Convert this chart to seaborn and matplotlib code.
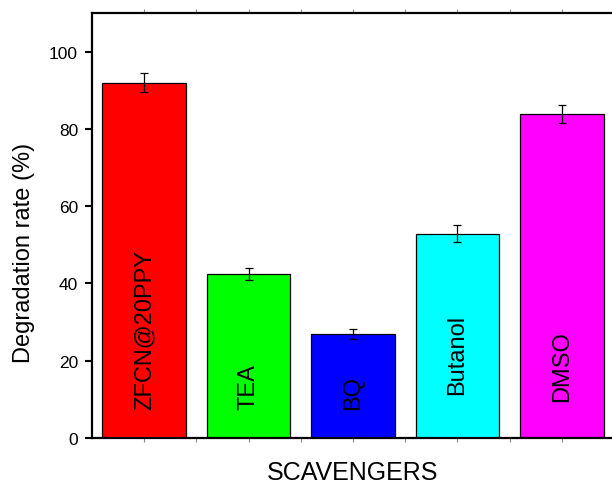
import matplotlib
matplotlib.use("Agg")
import matplotlib.pyplot as plt
import seaborn as sns
import pandas as pd
import numpy as np

# Scavenger experiment: degradation rate with each trapping agent
scavengers = ["ZFCN@20PPY", "TEA", "BQ", "Butanol", "DMSO"]
degradation = [92.0, 42.4, 26.9, 52.9, 83.9]
errors = [2.5, 1.5, 1.3, 2.2, 2.3]
bar_colors = ["#ff0000", "#00ff00", "#0000ff", "#00ffff", "#ff00ff"]
y_ticks = [0, 20, 40, 60, 80, 100]

# vertical start of the in-bar labels (data units)
label_base = [7.5, 7.5, 7.5, 11.4, 9.6]

sns.set_theme(style="ticks")
plt.rcParams["font.family"] = ["Liberation Sans", "DejaVu Sans"]
plt.rcParams["text.color"] = "black"
plt.rcParams["axes.labelcolor"] = "black"
plt.rcParams["xtick.color"] = "black"
plt.rcParams["ytick.color"] = "black"

df = pd.DataFrame({"scavenger": scavengers, "rate": degradation})

fig = plt.figure(figsize=(6.12, 4.81), dpi=100)
ax = fig.add_axes([92 / 612, 42 / 481, 522 / 612, 425 / 481])

sns.barplot(data=df, x="scavenger", y="rate", hue="scavenger",
            palette=bar_colors, saturation=1, errorbar=None, width=0.8,
            legend=False, edgecolor="black", linewidth=0.9, ax=ax)

xpos = np.arange(len(scavengers))
ax.errorbar(xpos, degradation, yerr=errors, fmt="none", ecolor="black",
            elinewidth=0.9, capsize=2.6, capthick=0.9)

for x, name, yb in zip(xpos, scavengers, label_base):
    ax.text(x, yb, name, rotation=90, ha="center", va="bottom",
            fontsize=17, color="black")

ax.set_xlim(-0.5, len(scavengers) - 0.5)
ax.set_ylim(0, 110)
ax.set_yticks(y_ticks)
ax.set_yticklabels([str(t) for t in y_ticks], fontsize=12.5)
ax.set_xticks(xpos)
ax.set_xticklabels([])
ax.set_xticks(xpos[:-1] + 0.5, minor=True)

ax.tick_params(axis="y", direction="out", length=5, width=1.5, pad=5,
               left=True)
ax.tick_params(axis="x", which="both", direction="out", length=3,
               width=0.8, color="#888888", top=True, bottom=True)

for side in ["left", "bottom", "top", "right"]:
    ax.spines[side].set_linewidth(1.6)
    ax.spines[side].set_color("black")

ax.set_ylabel("Degradation rate (%)", fontsize=17)
ax.yaxis.label.set_va("center")
ax.yaxis.set_label_coords(-0.130, 0.438)

ax.set_xlabel("SCAVENGERS", fontsize=18)
ax.xaxis.label.set_va("baseline")
ax.xaxis.set_label_coords(0.5, -41 / 425)

fig.savefig("out.png", dpi=100)
